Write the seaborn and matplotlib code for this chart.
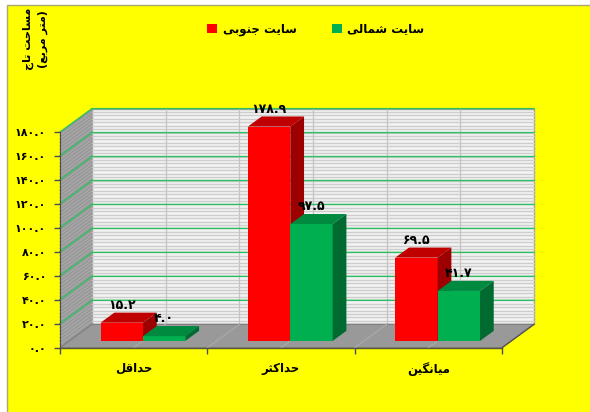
import numpy as np
import pandas as pd
import matplotlib
matplotlib.use("Agg")
import matplotlib.pyplot as plt
from matplotlib.patches import Polygon, Rectangle
import seaborn as sns

# data
categories = ["حداقل", "حداکثر", "میانگین"]
series = ["سایت جنوبی", "سایت شمالی"]
south_values = [15.2, 178.9, 69.5]
north_values = [4.0, 97.5, 41.7]
y_ticks = [0, 20, 40, 60, 80, 100, 120, 140, 160, 180]
y_title = ["مساحت تاج", "(متر مربع)"]

colors = ["#ff0000", "#00b050"]
top_colors = ["#c00000", "#008a40"]
side_colors = ["#9c0000", "#006b30"]

plt.rcParams["font.family"] = ["DejaVu Sans"]

# matplotlib has no arabic shaping, so pick the presentation forms by hand
# (isolated, final, initial, medial)
FORMS = {
    "ا": ("\ufe8d", "\ufe8e", None, None),
    "ب": ("\ufe8f", "\ufe90", "\ufe91", "\ufe92"),
    "ت": ("\ufe95", "\ufe96", "\ufe97", "\ufe98"),
    "ث": ("\ufe99", "\ufe9a", "\ufe9b", "\ufe9c"),
    "ج": ("\ufe9d", "\ufe9e", "\ufe9f", "\ufea0"),
    "ح": ("\ufea1", "\ufea2", "\ufea3", "\ufea4"),
    "د": ("\ufea9", "\ufeaa", None, None),
    "ر": ("\ufead", "\ufeae", None, None),
    "س": ("\ufeb1", "\ufeb2", "\ufeb3", "\ufeb4"),
    "ش": ("\ufeb5", "\ufeb6", "\ufeb7", "\ufeb8"),
    "ع": ("\ufec9", "\ufeca", "\ufecb", "\ufecc"),
    "ق": ("\ufed5", "\ufed6", "\ufed7", "\ufed8"),
    "ل": ("\ufedd", "\ufede", "\ufedf", "\ufee0"),
    "م": ("\ufee1", "\ufee2", "\ufee3", "\ufee4"),
    "ن": ("\ufee5", "\ufee6", "\ufee7", "\ufee8"),
    "و": ("\ufeed", "\ufeee", None, None),
    "ی": ("\ufbfc", "\ufbfd", "\ufbfe", "\ufbff"),
    "ک": ("\ufb8e", "\ufb8f", "\ufb90", "\ufb91"),
    "گ": ("\ufb92", "\ufb93", "\ufb94", "\ufb95"),
}


def joins_next(c):
    return c in FORMS and FORMS[c][2] is not None


def shape(text):
    out = []
    i = 0
    n = len(text)
    while i < n:
        c = text[i]
        if c not in FORMS:
            out.append(c)
            i += 1
            continue
        join_prev = i > 0 and joins_next(text[i - 1])
        nxt = text[i + 1] if i + 1 < n else None
        if c == "ل" and nxt == "ا":
            out.append("\ufefc" if join_prev else "\ufefb")
            i += 2
            continue
        join_next = joins_next(c) and nxt in FORMS
        iso, fin, ini, med = FORMS[c]
        if join_prev and join_next:
            out.append(med)
        elif join_prev:
            out.append(fin)
        elif join_next:
            out.append(ini)
        else:
            out.append(iso)
        i += 1
    vis = "".join(reversed(out))
    return vis.translate(str.maketrans("()", ")("))


def fa(v):
    return f"{v:.1f}".translate(str.maketrans("0123456789", "۰۱۲۳۴۵۶۷۸۹"))


df = pd.DataFrame({
    "category": categories * 2,
    "site": [series[0]] * len(categories) + [series[1]] * len(categories),
    "value": south_values + north_values,
})

fig = plt.figure(figsize=(5.9, 4.12), dpi=100, facecolor="white")
fig.patches.append(Rectangle((7 / 590, -0.02), 1.02, 1.02 - 5 / 412, transform=fig.transFigure,
                             facecolor="#ffff00", edgecolor="#a8a870", lw=1, zorder=-10))

ax = fig.add_axes([60 / 590, 64.3 / 412, 442 / 590, 215.7 / 412])
sns.barplot(data=df, x="category", y="value", hue="site", palette=colors,
            width=0.575, gap=0, saturation=1, linewidth=0, ax=ax)
ax.set_xlim(-0.5, 2.5)
ax.set_ylim(0, 180)
ax.set_facecolor("none")

# depth of the 3d box in data units
ux = ax.transData.transform((1, 0))[0] - ax.transData.transform((0, 0))[0]
uy = ax.transData.transform((0, 1))[1] - ax.transData.transform((0, 0))[1]
DX, DY = 32 / ux, 23.4 / uy
x0, x1 = -0.5, 2.5
ytop = y_ticks[-1]

# back wall
ax.add_patch(Rectangle((x0 + DX, DY), x1 - x0, ytop, facecolor="#f3f3f3",
                       edgecolor="#a0a0a0", lw=1, zorder=0.5, clip_on=False))
for v in np.arange(20 / 7, ytop, 20 / 7):
    ax.plot([x0 + DX, x1 + DX], [v + DY] * 2, color="#cdcdcd", lw=1, zorder=0.6, clip_on=False)
for xv in np.arange(0, 2.01, 0.5):
    ax.plot([xv + DX] * 2, [DY, ytop + DY], color="#c4c4c4", lw=0.9, zorder=0.65, clip_on=False)

# side wall
ax.add_patch(Polygon([(x0, 0), (x0, ytop), (x0 + DX, ytop + DY), (x0 + DX, DY)],
                     closed=True, facecolor="#979797", edgecolor="none", zorder=0.5, clip_on=False))
for v in np.arange(20 / 7, ytop, 20 / 7):
    ax.plot([x0, x0 + DX], [v, v + DY], color="#a9a9a9", lw=0.9, zorder=0.6, clip_on=False)

# green grid lines over both walls
for v in y_ticks[1:]:
    ax.plot([x0, x0 + DX, x1 + DX], [v, v + DY, v + DY], color="#2ec060", lw=1,
            zorder=0.8, clip_on=False)

# floor
ax.add_patch(Polygon([(x0, 0), (x1, 0), (x1 + DX, DY), (x0 + DX, DY)], closed=True,
                     facecolor="#999999", edgecolor="#7c7c7c", lw=0.8, zorder=1, clip_on=False))
for xv in np.arange(0, 2.01, 0.5):
    ax.plot([xv, xv + DX], [0, DY], color="#aaaaaa", lw=0.8, zorder=1.1, clip_on=False)
ax.plot([x0, x1], [0, 0], color="#55553a", lw=1, zorder=2, clip_on=False)
ax.plot([x1, x1 + DX], [0, DY], color="#555555", lw=1, zorder=2, clip_on=False)

# turn the flat seaborn bars into boxes
sx, sy = 0.29 * DX, 0.29 * DY
ddx, ddy = 0.43 * DX, 0.43 * DY
for hi, cont in enumerate(ax.containers):
    for bar in cont:
        x, w, h = bar.get_x(), bar.get_width(), bar.get_height()
        bar.set_xy((x + sx, sy))
        bar.set_zorder(3 + hi)
        bar.set_clip_on(False)
        xl, xr, yt = x + sx, x + w + sx, h + sy
        ax.add_patch(Polygon([(xl, yt), (xr, yt), (xr + ddx, yt + ddy), (xl + ddx, yt + ddy)],
                             closed=True, facecolor=top_colors[hi], edgecolor="none",
                             zorder=3 + hi, clip_on=False))
        ax.add_patch(Polygon([(xr, sy), (xr + ddx, sy + ddy), (xr + ddx, yt + ddy), (xr, yt)],
                             closed=True, facecolor=side_colors[hi], edgecolor="none",
                             zorder=3 + hi, clip_on=False))
        ax.text((xl + xr) / 2, yt + ddy + 0.5, fa(h), ha="center", va="bottom",
                fontsize=9, fontweight="bold", zorder=10)

# axes
for s in ["top", "right", "bottom"]:
    ax.spines[s].set_visible(False)
ax.spines["left"].set_color("#4d4d4d")
ax.set_yticks(y_ticks)
ax.set_yticklabels([fa(v) for v in y_ticks], fontsize=8, fontweight="bold")
ax.tick_params(axis="y", length=4, width=1, color="#4d4d4d", pad=6)
ax.set_xticks(range(len(categories)))
ax.set_xticklabels([shape(c) for c in categories], fontsize=8.5, fontweight="bold")
ax.set_xticks([-0.5, 0.5, 1.5, 2.5], minor=True)
ax.tick_params(axis="x", which="major", length=0, pad=10)
ax.tick_params(axis="x", which="minor", length=4, width=1, color="#4d4d4d")
ax.set_xlabel("")
ax.set_ylabel("")

handles, _ = ax.get_legend_handles_labels()
ax.get_legend().remove()
fig.legend(handles, [shape(s) for s in series], loc="center",
           bbox_to_anchor=(316 / 590, 1 - 29 / 412), ncol=2, frameon=False,
           handlelength=0.8, handleheight=0.8, handletextpad=0.5, columnspacing=3,
           prop={"weight": "bold", "size": 8.5})

fig.text(35 / 590, 1 - 39 / 412, "\n".join(shape(t) for t in y_title), rotation=90,
         ha="center", va="center", ma="center", fontsize=8, fontweight="bold",
         linespacing=1.5)

fig.savefig("out.png", dpi=100, facecolor=fig.get_facecolor())
